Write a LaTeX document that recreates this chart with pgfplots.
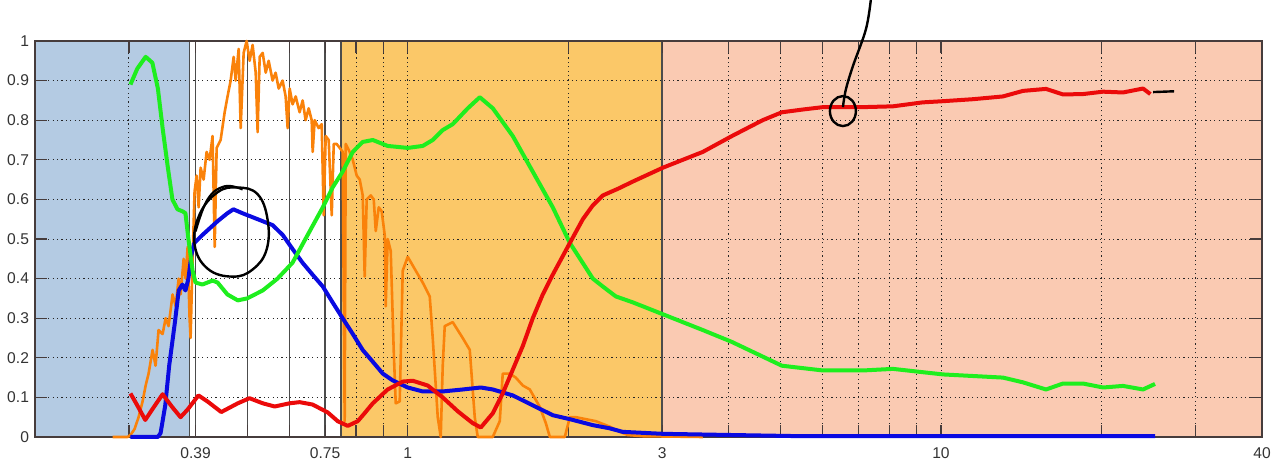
\documentclass[border=0pt]{standalone}
\usepackage{fontspec}
\setmainfont{Liberation Sans}
\usepackage{pgfplots}
\pgfplotsset{compat=1.18}
\definecolor{regblue}{RGB}{180,203,227}
\definecolor{regorange}{RGB}{251,200,104}
\definecolor{regpink}{RGB}{250,202,178}
\definecolor{cgreen}{RGB}{30,238,30}
\definecolor{cblue}{RGB}{10,10,225}
\definecolor{cred}{RGB}{235,10,10}
\definecolor{corange}{RGB}{250,130,10}
\definecolor{axgray}{RGB}{70,60,60}
\begin{document}
\begin{tikzpicture}
\begin{axis}[name=ax, set layers, scale only axis, width=613.5pt, height=198pt,
  xmode=log, xmin=0.2, xmax=40, ymin=0, ymax=1, clip=false,
  xtick={0.4,0.7,1,3,10,40}, xticklabels={0.39,0.75,1,3,10,40},
  minor xtick={0.3,0.5,0.6,0.8,0.9,2,4,5,6,7,8,9,20,30},
  ytick={0,0.1,0.2,0.3,0.4,0.5,0.6,0.7,0.8,0.9,1},
  yticklabels={0,0.1,0.2,0.3,0.4,0.5,0.6,0.7,0.8,0.9,1},
  grid=both,
  grid style={black!85, line width=0.45pt, dash pattern=on 0.6pt off 1.6pt},
  minor grid style={black!85, line width=0.45pt, dash pattern=on 0.6pt off 1.6pt},
  tick align=inside, tick pos=both,
  major tick length=6pt, minor tick length=6pt,
  every tick/.style={axgray, line width=0.6pt},
  axis line style={axgray, line width=0.6pt},
  tick label style={font=\fontsize{7.8}{9}\selectfont, black!80},
  xticklabel style={yshift=-2pt},
  yticklabel style={xshift=0.5pt},
  /pgf/number format/assume math mode=true,
]
\begin{pgfonlayer}{axis background}
\fill[regblue] (axis cs:0.2,0) rectangle (axis cs:0.39,1);
\fill[regorange] (axis cs:0.75,0) rectangle (axis cs:3,1);
\fill[regpink] (axis cs:3,0) rectangle (axis cs:40,1);
\end{pgfonlayer}
\begin{pgfonlayer}{axis grid}
\foreach \xv in {0.39,0.4,0.5,0.6,0.7,0.75,3}{
  \edef\temp{\noexpand\draw[black!70, line width=0.65pt] (axis cs:\xv,0) -- (axis cs:\xv,1);}
  \temp
}
\end{pgfonlayer}
% orange: solar spectrum
\addplot[corange, line width=1.3pt, line join=round] coordinates {
(0.2795,0) (0.2981,0) (0.302,0.005) (0.3074,0.02) (0.3128,0.05) (0.3183,0.09) (0.3225,0.13)
(0.3266,0.16) (0.3323,0.22) (0.3366,0.18) (0.3410,0.27) (0.3470,0.26) (0.3516,0.30) (0.3561,0.28)
(0.3623,0.36) (0.3671,0.33) (0.3719,0.40) (0.3751,0.36) (0.3800,0.45) (0.3832,0.40) (0.3866,0.48)
(0.3899,0.30) (0.3916,0.25) (0.3950,0.45) (0.3984,0.62) (0.4019,0.66) (0.4054,0.58) (0.4089,0.68)
(0.4142,0.65) (0.4196,0.72) (0.4251,0.70) (0.4305,0.76) (0.4345,0.48) (0.4382,0.73) (0.4458,0.75)
(0.4536,0.82) (0.4593,0.86) (0.4655,0.90) (0.4716,0.96) (0.4757,0.90) (0.4819,0.98) (0.4861,0.78)
(0.4924,0.97) (0.4988,1.0) (0.5053,0.95) (0.5118,0.99) (0.5187,0.92) (0.5230,0.77) (0.5277,0.96)
(0.5345,0.97) (0.5416,0.92) (0.5486,0.95) (0.5579,0.90) (0.5653,0.92) (0.5728,0.88) (0.5826,0.90)
(0.5903,0.86) (0.5954,0.78) (0.6006,0.88) (0.6083,0.84) (0.6165,0.86) (0.6270,0.82) (0.6353,0.85)
(0.6434,0.80) (0.6520,0.83) (0.6605,0.80) (0.6634,0.72) (0.6691,0.80) (0.6808,0.78) (0.6897,0.79)
(0.6957,0.56) (0.7017,0.76) (0.7109,0.75) (0.7203,0.56) (0.7266,0.74) (0.7359,0.74) (0.7455,0.73)
(0.7552,0.72) (0.7618,0.04) (0.7651,0.74) (0.7784,0.72) (0.7888,0.70) (0.8024,0.66) (0.8128,0.65)
(0.8234,0.61) (0.8304,0.405) (0.8377,0.60) (0.8524,0.61) (0.8635,0.60) (0.8710,0.52) (0.8823,0.58)
(0.8937,0.57) (0.9054,0.51) (0.9093,0.33) (0.9172,0.50) (0.9292,0.47) (0.9412,0.22) (0.9495,0.085)
(0.9660,0.09) (0.9786,0.42) (1.0,0.455) (1.0351,0.42) (1.0669,0.39) (1.0997,0.355) (1.1140,0.25)
(1.1384,0.05) (1.1532,0.0) (1.1632,0.18) (1.1733,0.28) (1.2145,0.29) (1.2409,0.27) (1.2679,0.25)
(1.3072,0.22) (1.3357,0.05) (1.3530,0.0) (1.4436,0.0) (1.4880,0.04) (1.5073,0.16) (1.5538,0.16)
(1.5944,0.15) (1.6439,0.13) (1.6943,0.12) (1.7689,0.076) (1.8156,0.035) (1.8473,0.0) (1.9707,0.0)
(2.0137,0.05) (2.0667,0.05) (2.2528,0.04) (2.3933,0.026) (2.4988,0.013) (2.5872,0.005) (2.7600,0.002)
(3.577,0)
};
% blue
\addplot[cblue, line width=2pt, line join=round] coordinates {
(0.302,0) (0.340,0) (0.344,0.01) (0.351,0.08) (0.357,0.18) (0.366,0.29) (0.372,0.37) (0.378,0.385)
(0.383,0.37) (0.388,0.40) (0.393,0.46) (0.398,0.49) (0.412,0.51) (0.440,0.545) (0.459,0.565)
(0.471,0.575) (0.490,0.565) (0.523,0.55) (0.558,0.535) (0.583,0.51) (0.608,0.475) (0.635,0.44)
(0.663,0.41) (0.693,0.38) (0.723,0.34) (0.755,0.30) (0.789,0.26) (0.823,0.22) (0.860,0.19)
(0.898,0.16) (0.937,0.143) (1.0,0.125) (1.067,0.115) (1.163,0.115) (1.268,0.12) (1.371,0.125)
(1.444,0.12) (1.574,0.105) (1.716,0.08) (1.871,0.055) (2.014,0.045) (2.224,0.03) (2.39,0.022)
(2.53,0.013) (3.01,0.008) (4.055,0.005) (5.51,0.002) (25.2,0.002)
};
% green
\addplot[cgreen, line width=2pt, line join=round] coordinates {
(0.302,0.89) (0.311,0.93) (0.3225,0.96) (0.332,0.945) (0.340,0.88) (0.347,0.78) (0.355,0.68)
(0.362,0.60) (0.370,0.575) (0.378,0.57) (0.383,0.565) (0.388,0.50) (0.395,0.42) (0.400,0.39)
(0.412,0.385) (0.4305,0.395) (0.440,0.39) (0.459,0.36) (0.480,0.345) (0.500,0.35) (0.5345,0.37)
(0.570,0.40) (0.608,0.44) (0.649,0.51) (0.693,0.58) (0.723,0.63) (0.755,0.67) (0.789,0.72)
(0.823,0.745) (0.860,0.75) (0.917,0.735) (1.0,0.73) (1.067,0.735) (1.114,0.75) (1.163,0.775)
(1.2145,0.79) (1.296,0.83) (1.365,0.858) (1.444,0.83) (1.574,0.76) (1.716,0.67) (1.871,0.58)
(2.014,0.49) (2.224,0.40) (2.322,0.38) (2.456,0.355) (2.643,0.34) (3.009,0.31) (3.577,0.27)
(4.055,0.24) (5.031,0.18) (6.006,0.168) (7.14,0.168) (8.126,0.172) (9.055,0.165) (10.09,0.158)
(13.07,0.15) (14.25,0.138) (15.74,0.12) (16.94,0.135) (18.47,0.135) (20.14,0.125) (21.95,0.129)
(23.93,0.12) (25.2,0.134)
};
% red
\addplot[cred, line width=2pt, line join=round] coordinates {
(0.302,0.11) (0.311,0.08) (0.322,0.043) (0.332,0.07) (0.347,0.108) (0.362,0.075) (0.375,0.05)
(0.387,0.07) (0.405,0.105) (0.421,0.09) (0.447,0.063) (0.480,0.085) (0.505,0.098) (0.535,0.085)
(0.563,0.077) (0.600,0.085) (0.627,0.088) (0.663,0.082) (0.708,0.062) (0.739,0.04) (0.772,0.028)
(0.806,0.04) (0.830,0.06) (0.86,0.085) (0.917,0.12) (0.979,0.14) (1.022,0.142) (1.09,0.13)
(1.163,0.10) (1.241,0.065) (1.324,0.035) (1.371,0.024) (1.444,0.06) (1.507,0.11) (1.574,0.17)
(1.644,0.23) (1.716,0.30) (1.792,0.36) (1.871,0.41) (2.014,0.49) (2.13,0.55) (2.224,0.585)
(2.322,0.61) (2.48,0.627) (2.643,0.645) (3.009,0.68) (3.577,0.72) (4.055,0.76) (4.63,0.80)
(5.031,0.82) (5.51,0.827) (6.006,0.833) (7.14,0.833) (8.126,0.835) (9.24,0.845) (10.09,0.848)
(11.48,0.853) (13.07,0.86) (14.25,0.874) (15.74,0.879) (16.94,0.865) (18.47,0.866) (20.14,0.872)
(21.95,0.87) (23.93,0.88) (24.7,0.866)
};
% hand-drawn annotations
\addplot[black, line width=1.2pt] coordinates {(24.99,0.871) (27.36,0.873)};
\draw[black, line width=1.2pt] plot[smooth cycle, tension=0.7] coordinates {
(axis cs:0.3984,0.486) (axis cs:0.4071,0.562) (axis cs:0.4399,0.618) (axis cs:0.4797,0.630)
(axis cs:0.5230,0.613) (axis cs:0.5460,0.549) (axis cs:0.5436,0.473) (axis cs:0.5118,0.423)
(axis cs:0.4693,0.405) (axis cs:0.4214,0.425)};
\draw[black, line width=1.1pt] plot[smooth, tension=0.7] coordinates {
(axis cs:0.4001,0.519) (axis cs:0.4214,0.600) (axis cs:0.4536,0.633) (axis cs:0.4901,0.625)};
\draw[black, line width=1.2pt] (axis cs:6.548,0.823) ellipse [x radius=6.5pt, y radius=7.5pt];
\draw[black, line width=1.2pt] plot[smooth, tension=0.6] coordinates {
(axis cs:7.39,1.106) (axis cs:7.234,1.030) (axis cs:6.839,0.937) (axis cs:6.634,0.878) (axis cs:6.548,0.833)};
\end{axis}
\pgfresetboundingbox
\useasboundingbox ([xshift=-17.5pt,yshift=-14.5pt]ax.south west) rectangle ([xshift=7.5pt,yshift=20.5pt]ax.north east);
\end{tikzpicture}
\end{document}
